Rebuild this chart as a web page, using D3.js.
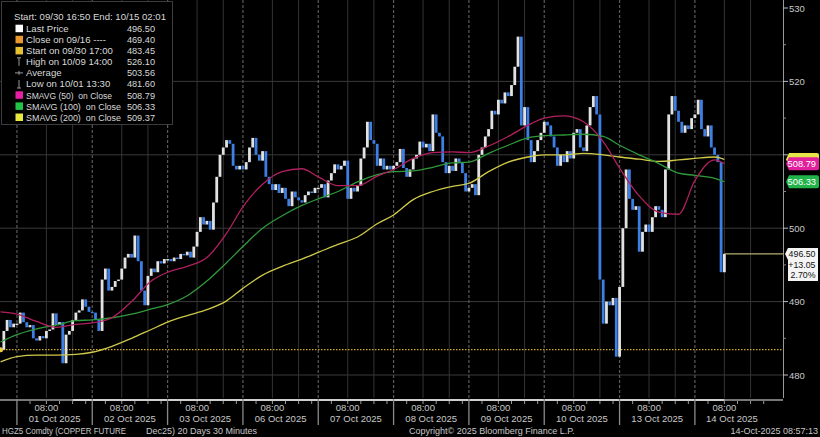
<!DOCTYPE html>
<html><head><meta charset="utf-8">
<script src="https://cdn.jsdelivr.net/npm/d3@7"></script>
<style>
html,body{margin:0;padding:0;background:#000;}
svg{display:block;font-family:"Liberation Sans",Arial,sans-serif;}
text{white-space:pre;}
</style></head><body>
<svg id="c" width="820" height="437"></svg>
<script>
// ---------- DATA ----------
// trading sessions (23 trading hours each); hourly closes
const sessionDates = ["30 Sep 2025","01 Oct 2025","02 Oct 2025","03 Oct 2025","06 Oct 2025","07 Oct 2025","08 Oct 2025","09 Oct 2025","10 Oct 2025","13 Oct 2025","14 Oct 2025","15 Oct 2025"];
const sessionFirstHour = [18,0,0,0,0,0,0,0,0,0,0];
const close0930 = [483.45,486.0,487.5,486.5,487.0];
const close1001 = [487.0,488.5,487.2,486.5,486.8,485.0,484.7,485.3,485.0,486.0,486.2,488.4,486.8,487.2,481.6,485.5,486.0,487.5,488.5,488.8,490.3,489.3,488.6];
const close1002 = [488.5,487.5,486.0,493.0,494.5,491.5,492.0,492.8,493.0,494.5,496.0,496.5,496.0,499.0,495.5,491.5,489.5,493.5,494.5,494.0,495.5,495.2,495.8];
const close1003 = [495.8,495.5,496.0,495.8,496.5,496.3,496.8,496.0,497.5,499.5,501.5,500.5,501.0,499.8,503.5,507.0,510.0,511.0,512.0,511.5,508.5,508.0,508.5];
const close1006 = [508.0,509.0,511.0,512.3,510.0,509.2,510.5,507.0,506.0,505.2,506.0,504.8,505.5,504.0,503.0,505.0,504.2,503.8,503.5,504.5,505.0,504.8,505.5];
const close1007 = [505.5,506.0,504.2,506.5,507.5,508.7,508.0,508.5,509.2,504.0,505.5,505.0,505.8,509.5,511.0,514.5,512.0,511.5,508.5,509.5,508.0,508.5,508.0];
const close1008 = [508.5,509.0,510.8,508.2,507.0,508.0,509.5,510.0,511.8,511.0,511.5,510.5,515.5,513.0,512.5,509.0,507.5,508.5,507.8,509.5,509.0,507.5,505.0];
const close1009 = [505.5,506.0,504.5,510.0,511.0,512.5,513.5,516.0,515.5,517.5,517.0,518.5,518.0,519.5,522.0,526.1,514.0,516.5,512.0,509.0,510.5,512.0,513.0];
const close1010 = [514.5,514.0,512.5,511.0,508.5,510.0,509.0,510.5,509.5,513.0,513.5,511.0,510.5,514.0,516.5,518.0,515.5,493.0,487.0,490.0,489.5,490.5,482.5];
const close1013 = [492.0,500.0,508.0,504.0,502.5,503.0,496.8,499.5,500.5,499.5,501.5,503.0,502.5,501.5,508.0,515.5,518.0,516.0,514.5,513.0,514.0,513.5,515.0];
const close1014 = [515.5,517.5,513.5,512.5,514.0,511.0,510.0,509.0,494.0,496.5];
const closes = [close0930,close1001,close1002,close1003,close1006,close1007,close1008,close1009,close1010,close1013,close1014];

// moving averages sampled at session hours 0,6,12,18 (first: 09/30 17:00, last: last bar)
const sma50  = [488.6, 488.3,487.3,486.5,486.9, 487.1,487.8,490.0,492.8, 494.0,494.8,496.0,499.3, 502.9,506.0,507.7,508.1, 507.0,505.8,505.8,507.1, 508.0,509.5,510.3,510.4, 510.3,511.2,512.5,514.0, 515.0,515.3,514.5,511.8, 508.2,504.4,502.2,501.9, 506.5,509.3,508.79];
const sma100 = [484.5, 485.5,486.3,486.8,487.4, 487.5,487.8,488.3,489.0, 489.6,490.8,492.8,495.3, 497.5,500.0,501.7,503.1, 504.0,505.0,506.3,507.3, 507.7,507.8,508.3,508.9, 509.0,510.2,511.3,512.3, 512.6,512.7,512.8,512.5, 511.3,510.0,508.8,507.5, 507.2,506.8,506.33];
const sma200 = [481.8, 482.5,482.7,482.7,482.8, 483.1,483.9,485.0,486.2, 487.2,488.1,488.9,490.1, 491.8,493.6,494.8,495.8, 496.7,497.8,498.8,500.6, 501.8,503.9,505.0,505.7, 506.1,507.7,509.0,509.7, 510.0,510.0,510.2,510.0, 509.7,509.4,509.1,509.3, 509.5,509.7,509.37];

const yTicks = [480,490,500,510,520,530];
const yMinor = [485,495,505,515,525];
const startPrice = 483.45, lastPrice = 496.50;
const lastChange = ["+13.05","2.70%"];

const legendHeader = "Start: 09/30 16:50 End: 10/15 02:01";
const legendLabels = ["Last Price","Close on 09/16 ----","Start on 09/30 17:00","High on 10/09 14:00","Average","Low on 10/01 13:30","SMAVG (50)  on Close","SMAVG (100)  on Close","SMAVG (200)  on Close"];
const legendValues = ["496.50","469.40","483.45","526.10","503.56","481.60","508.79","506.33","509.37"];
const legendKinds = ["sw","sw","sw","high","avg","low","sw","sw","sw"];
const legendColors = ["#ffffff","#e8982c","#e6c030","#999","#999","#999","#e620a4","#22c447","#e8e840"];

// ---------- CHART ----------
const svg = d3.select("#c");
svg.append("rect").attr("width",820).attr("height",437).attr("fill","#000");
const plotR = 783, plotB = 398;
const H = 23;
const x = d3.scaleLinear().domain([17.83,256.9]).range([0,plotR]);
const y = d3.scaleLinear().domain([480,530]).range([375,8]);

const pts = [];
closes.forEach((arr,k)=>arr.forEach((v,i)=>pts.push({t:H*k+sessionFirstHour[k]+i, v})));

function maPoints(arr){
  const ts=[18];
  for(let k=1;k<=9;k++) [0,6,12,18].forEach(h=>ts.push(H*k+h));
  ts.push(H*10+0, H*10+6, pts[pts.length-1].t);
  return arr.map((v,i)=>({t:ts[i],v}));
}

svg.append("clipPath").attr("id","pc").append("rect").attr("x",0).attr("y",0).attr("width",plotR).attr("height",plotB);
const g = svg.append("g").attr("clip-path","url(#pc)");

// grid
g.selectAll(".hg").data(yTicks.filter(d=>d<530)).join("line")
  .attr("x1",0).attr("x2",plotR).attr("y1",d=>y(d)).attr("y2",d=>y(d))
  .attr("stroke","#3a3a3a").attr("stroke-width",1);
const sessStarts = d3.range(1,11).map(k=>H*k);
const hourLines = [];
d3.range(1,11).forEach(k=>{hourLines.push(H*k+9); hourLines.push(H*k+17);});
g.selectAll(".vs").data(hourLines).join("line")
  .attr("x1",d=>x(d)).attr("x2",d=>x(d)).attr("y1",0).attr("y2",plotB)
  .attr("stroke","#333").attr("stroke-width",1);
g.selectAll(".vd").data(sessStarts).join("line")
  .attr("x1",d=>x(d)).attr("x2",d=>x(d)).attr("y1",0).attr("y2",plotB)
  .attr("stroke","#5a5a5a").attr("stroke-width",1.2).attr("stroke-dasharray","3,2");

// start dotted line
g.append("line").attr("x1",0).attr("x2",plotR).attr("y1",y(startPrice)).attr("y2",y(startPrice))
  .attr("stroke","#d2a82c").attr("stroke-width",1.3).attr("stroke-dasharray","1.5,1.5");

// price bars
const bw = 2.8;
g.selectAll(".bar").data(pts).join("rect")
  .attr("x",d=>x(d.t)-bw/2)
  .attr("y",(d,i)=>{const p=i?pts[i-1].v:d.v; return y(Math.max(p,d.v));})
  .attr("width",bw)
  .attr("height",(d,i)=>{const p=i?pts[i-1].v:d.v; return Math.max(1.4,Math.abs(y(p)-y(d.v)));})
  .attr("fill",(d,i)=>{const p=i?pts[i-1].v:d.v; return d.v>=p?"#e2e2e2":"#3d7fe4";});

// last price line
const last = pts[pts.length-1];
g.append("line").attr("x1",x(last.t)).attr("x2",plotR).attr("y1",y(lastPrice)).attr("y2",y(lastPrice))
  .attr("stroke","#b4ae6a").attr("stroke-width",1.2);

// moving averages
const line = d3.line().x(d=>x(d.t)).y(d=>y(d.v)).curve(d3.curveMonotoneX);
[[sma200,"#cfc94a"],[sma100,"#2f9a3a"],[sma50,"#b0205e"]].forEach(([a,c])=>{
  g.append("path").attr("d",line(maPoints(a))).attr("fill","none").attr("stroke",c).attr("stroke-width",1.3);
});
// start marker
g.append("circle").attr("cx",x(18)).attr("cy",y(startPrice)).attr("r",2.5).attr("fill","#e8d040");

// right axis
svg.append("line").attr("x1",plotR+0.5).attr("x2",plotR+0.5).attr("y1",0).attr("y2",plotB)
  .attr("stroke","#9a9a9a").attr("stroke-width",1);
svg.selectAll(".mt").data(yTicks).join("line")
  .attr("x1",plotR).attr("x2",plotR+5).attr("y1",d=>y(d)).attr("y2",d=>y(d)).attr("stroke","#bbb");
svg.selectAll(".nt").data(yMinor).join("line")
  .attr("x1",plotR).attr("x2",plotR+3).attr("y1",d=>y(d)).attr("y2",d=>y(d)).attr("stroke","#888");
svg.selectAll(".yl").data(yTicks.filter(d=>d!==510)).join("text")
  .attr("x",plotR+6).attr("y",d=>y(d)+3.5).attr("fill","#c8c8c8").attr("font-size",9.5).text(d=>d);

// right value boxes
function tag(v,fill,txt,txtCol){
  const cy=y(v), h=13, x0=plotR+3, x1=819;
  svg.append("path").attr("d",`M${x0},${cy} L${x0+3},${cy-h/2} L${x1-2},${cy-h/2} Q${x1},${cy-h/2} ${x1},${cy-h/2+2} L${x1},${cy+h/2-2} Q${x1},${cy+h/2} ${x1-2},${cy+h/2} L${x0+3},${cy+h/2} Z`).attr("fill",fill);
  if(txt) svg.append("text").attr("x",816).attr("y",cy+3.5).attr("text-anchor","end").attr("font-size",9.3).attr("fill",txtCol).text(txt);
}
tag(509.37,"#e6e64a",null);
tag(508.79,"#e0209c",legendValues[6],"#fff");
tag(506.33,"#22b34a",legendValues[7],"#fff");
// last price box
{
  const cy=y(lastPrice), top=cy-6, x0=plotR+2;
  svg.append("path").attr("d",`M${x0},${cy} L${x0+3},${top} L818,${top} L818,${top+33} L${x0+3},${top+33} L${x0+3},${cy+6} Z`).attr("fill","#f4f4f4");
  const lines=[lastPrice.toFixed(2)].concat(lastChange);
  svg.selectAll(".lb").data(lines).join("text").attr("x",815.5).attr("y",(d,i)=>top+9.5+i*10.5)
    .attr("text-anchor","end").attr("font-size",8.8).attr("fill","#111").text(d=>d);
}

// bottom axis
svg.append("line").attr("x1",0).attr("x2",plotR).attr("y1",400).attr("y2",400).attr("stroke","#777").attr("stroke-width",2);
svg.append("line").attr("x1",x(40)).attr("x2",x(last.t)).attr("y1",400).attr("y2",400).attr("stroke","#cfcfcf").attr("stroke-width",2);
const minorT = [];
d3.range(1,11).forEach(k=>[4,9,13,17,21].forEach(h=>minorT.push(H*k+h)));
svg.selectAll(".xt").data(minorT.filter(t=>x(t)<plotR)).join("line")
  .attr("x1",d=>x(d)).attr("x2",d=>x(d)).attr("y1",401).attr("y2",404).attr("stroke","#999");
svg.selectAll(".xs").data(sessStarts).join("line")
  .attr("x1",d=>x(d)).attr("x2",d=>x(d)).attr("y1",399).attr("y2",425).attr("stroke","#8a8a8a").attr("stroke-width",1.3);
const dayIdx = d3.range(1,11);
svg.selectAll(".xh").data(dayIdx).join("text")
  .attr("x",k=>x(H*k+9)).attr("y",411).attr("text-anchor","middle").attr("font-size",9.5).attr("fill","#c8c8c8").text("08:00");
svg.selectAll(".xd").data(dayIdx).join("text")
  .attr("x",k=>(x(H*k)+Math.min(plotR-14,x(H*(k+1))))/2).attr("y",422).attr("text-anchor","middle").attr("font-size",9.5).attr("fill","#c8c8c8").text(k=>sessionDates[k]);

// footer
svg.append("text").attr("x",2).attr("y",434).attr("font-size",9).attr("fill","#c8c8c8")
  .attr("textLength",124).attr("lengthAdjust","spacingAndGlyphs").text("HGZ5 Comdty (COPPER FUTURE");
svg.append("text").attr("x",146).attr("y",434).attr("font-size",9).attr("fill","#c8c8c8").text("Dec25) 20 Days 30 Minutes");
svg.append("text").attr("x",409).attr("y",434).attr("font-size",9).attr("fill","#c8c8c8").text("Copyright\u00a9 2025 Bloomberg Finance L.P.");
svg.append("text").attr("x",818).attr("y",434).attr("text-anchor","end").attr("font-size",9).attr("fill","#c8c8c8").text("14-Oct-2025 08:57:13");

// legend
const lg = svg.append("g");
lg.append("rect").attr("x",1.5).attr("y",1.5).attr("width",171).attr("height",123).attr("fill","#000").attr("stroke","#3c3c3c");
lg.append("text").attr("x",14).attr("y",20).attr("font-size",9.6).attr("fill","#d8d8d8").text(legendHeader);
const labelFit = [null,null,null,null,null,null,86,95,95];
legendLabels.forEach((lab,i)=>{
  const cy = 28.5 + i*11.1;
  const k = legendKinds[i], c = legendColors[i];
  if(k==="sw") lg.append("rect").attr("x",15.5).attr("y",cy-3.8).attr("width",7.5).attr("height",7.5).attr("fill",c);
  else if(k==="high"){
    lg.append("line").attr("x1",19).attr("x2",19).attr("y1",cy-4).attr("y2",cy+4).attr("stroke",c);
    lg.append("line").attr("x1",17).attr("x2",21).attr("y1",cy-4).attr("y2",cy-4).attr("stroke",c);
  } else if(k==="avg"){
    lg.append("line").attr("x1",15).attr("x2",23).attr("y1",cy).attr("y2",cy).attr("stroke",c);
    lg.append("line").attr("x1",19).attr("x2",19).attr("y1",cy-2).attr("y2",cy+2).attr("stroke",c);
  } else {
    lg.append("line").attr("x1",19).attr("x2",19).attr("y1",cy-4).attr("y2",cy+4).attr("stroke",c);
    lg.append("line").attr("x1",17).attr("x2",21).attr("y1",cy+4).attr("y2",cy+4).attr("stroke",c);
  }
  const t = lg.append("text").attr("x",26).attr("y",cy+3.4).attr("font-size",9.6).attr("fill","#d8d8d8").text(lab);
  if(labelFit[i]) t.attr("textLength",labelFit[i]).attr("lengthAdjust","spacingAndGlyphs");
  lg.append("text").attr("x",155).attr("y",cy+3.4).attr("text-anchor","end").attr("font-size",9.2).attr("fill","#d8d8d8").text(legendValues[i]);
});
</script>
</body></html>
